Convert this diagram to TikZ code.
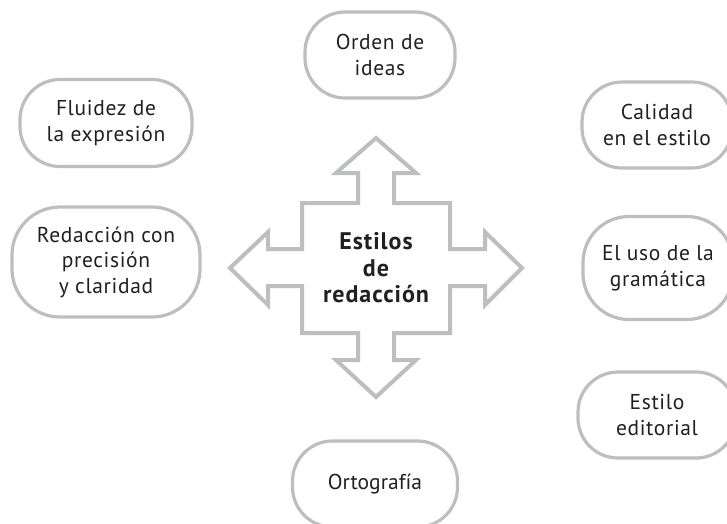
\documentclass[tikz,border=0pt]{standalone}
\usepackage{fontspec}
\setmainfont[LetterSpace=3]{PT Sans}
\newfontfamily\boldfam[LetterSpace=4]{PT Sans}
\definecolor{frame}{RGB}{188,190,192}
\definecolor{ink}{RGB}{35,31,32}
\tikzset{
  box/.style={draw=frame, line width=3.2pt, rounded corners=40pt, fill=white,
    text=ink, align=center, inner sep=0pt,
    font=\fontsize{21.5}{25.5}\selectfont},
  crossline/.style={draw=frame, line width=4pt, miter limit=10, fill=white}
}
\begin{document}
\begin{tikzpicture}[x=1pt,y=-1pt]
\useasboundingbox (0,0) rectangle (727,523);
\clip (0,0) rectangle (727,523);
% cross
\draw[crossline] (376,138) -- (416,173) -- (394,173) -- (394,203) -- (450,203)
  -- (450,249) -- (485,249) -- (485,232) -- (522,268) -- (485,305) -- (485,286)
  -- (450,286) -- (450,333) -- (394,333) -- (394,360) -- (416,360) -- (376,397)
  -- (336,360) -- (358,360) -- (358,333) -- (302,333) -- (302,286) -- (268,286)
  -- (268,305) -- (230,268) -- (268,232) -- (268,249) -- (302,249) -- (302,203)
  -- (358,203) -- (358,173) -- (336,173) -- cycle;
\node[text=ink, align=center, font=\boldfam\bfseries\fontsize{24}{26.5}\selectfont] (center) at (376,268) {Estilos\\de\\redacción};
% boxes
\node[box, minimum width=150pt, minimum height=86pt] (orden) at (380,55) {Orden de\\ideas};
\node[box, minimum width=172pt, minimum height=87pt] (fluidez) at (106,123) {Fluidez de\\la expresión};
\node[box, minimum width=188pt, minimum height=110pt, rounded corners=48pt] (redaccion) at (106,262) {Redacción con\\precisión\\y claridad};
\node[box, minimum width=150pt, minimum height=103pt, rounded corners=46pt] (gramatica) at (658,268) {El uso de la\\gramática};
\node[box, minimum width=150pt, minimum height=86pt] (calidad) at (657,125) {Calidad\\en el estilo};
\node[box, minimum width=158pt, minimum height=86pt] (editorial) at (657,415) {Estilo\\editorial};
\node[box, minimum width=165pt, minimum height=86pt, font=\fontsize{21.5}{25.5}\selectfont\addfontfeature{LetterSpace=0}] (orto) at (375,484) {Ortografía};
\end{tikzpicture}
\end{document}
